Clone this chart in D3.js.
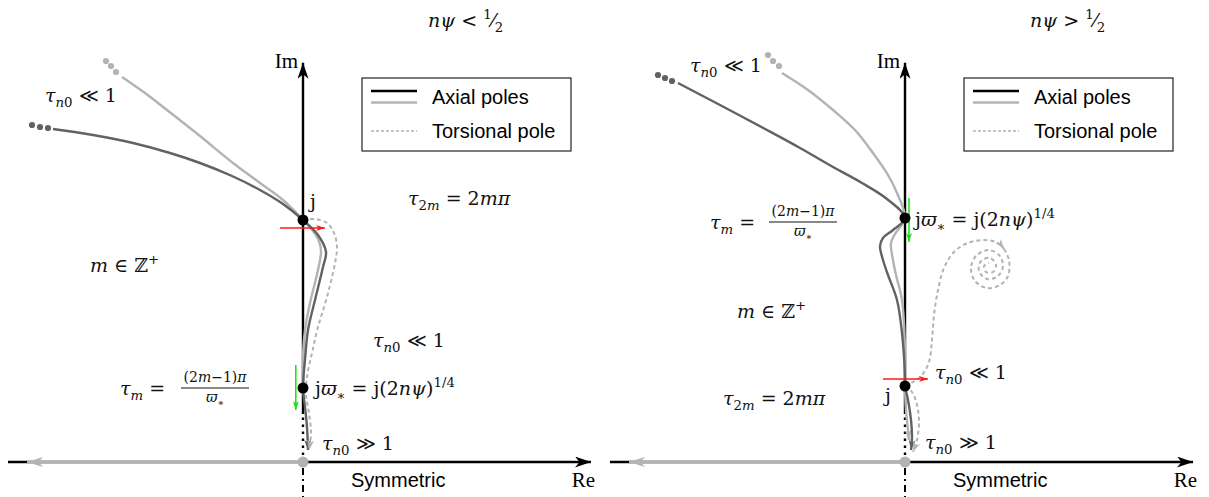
<!DOCTYPE html>
<html><head><meta charset="utf-8">
<script src="https://cdn.jsdelivr.net/npm/d3@7"></script>
<style>
html,body{margin:0;padding:0;background:#fff;}
svg{display:block;}
text{white-space:pre;}
</style></head><body>
<svg id="fig" width="1209" height="497"></svg>
<script>
// ---- Pole trajectories in the complex plane, [Re, Im] ----
// Regime n*psi < 1/2
const leftAxialA = [[-6.25,8.325],[-5.25,8.175],[-4.25,7.975],[-3.325,7.725],[-2.575,7.475],[-1.775,7.15],[-1.075,6.8],[-0.5,6.45],[0,6.05],[0.375,5.675],[0.575,5.25],[0.5,4.875],[0.3,4.05],[0.125,3.3],[0.05,2.55],[0,1.85],[0.05,1.375],[0.1,0.875],[0.125,0.3]];
const leftAxialB = [[-4.525,9.625],[-3.95,9.225],[-3.4,8.8],[-2.575,8.15],[-1.75,7.475],[-1.075,6.975],[-0.5,6.55],[0,6.05],[0.25,5.775],[0.4,5.525],[0.45,5.25],[0.375,4.8],[0.175,3.975],[0.05,3.3],[0,2.675],[0,1.85]];
const leftTorsional = [[0,6.05],[0.3,6.075],[0.6,5.975],[0.775,5.725],[0.85,5.375],[0.8,4.975],[0.6,4.125],[0.375,3.375],[0.225,2.725],[0.1,2.125],[0.075,1.675],[0.15,1.225],[0.2,0.725],[0.15,0.3]];
const leftTailA = [[-6.775,8.425],[-6.575,8.375],[-6.375,8.35]];
const leftTailB = [[-4.925,10.025],[-4.8,9.9],[-4.675,9.75]];
const leftPoles = [[0,6.05],[0,1.85]];
const leftRed = [[-0.575,5.85],[0.55,5.85]];
const leftGreen = [[-0.18,2.425],[-0.18,1.3]];

// Regime n*psi > 1/2
const rightAxialA = [[-5.675,9.475],[-4.625,8.925],[-3.45,8.3],[-2.625,7.85],[-1.8,7.375],[-1.075,6.975],[-0.45,6.575],[0,6.1],[-0.3,5.8],[-0.55,5.6],[-0.625,5.4],[-0.55,5.05],[-0.425,4.675],[-0.2,4.05],[-0.075,3.225],[0,2.125],[0,1.9],[0.075,1.55],[0.15,1.05],[0.175,0.625],[0.15,0.3]];
const rightAxialB = [[-3.075,9.725],[-2.425,9.3],[-1.8,8.8],[-1.25,8.3],[-0.8,7.725],[-0.425,7.175],[-0.2,6.725],[0,6.1],[-0.25,5.7],[-0.35,5.475],[-0.3,5.05],[-0.225,4.675],[-0.075,4.05],[0,2.8],[0,1.9],[0.025,1.3],[0.075,0.8],[0.1,0.55]];
const rightTorsionalUp = [[0,1.9],[0.2,2.0],[0.425,2.175],[0.6,2.5],[0.675,3.05],[0.725,3.675],[0.825,4.3],[0.975,4.85],[1.225,5.25],[1.575,5.475],[2.0,5.55],[2.325,5.475],[2.475,5.325]];
const rightTorsionalSpiral = [[2.475,5.325],[2.6,5.05],[2.575,4.65],[2.375,4.425],[2.05,4.35],[1.75,4.525],[1.65,4.85],[1.775,5.15],[2.075,5.3],[2.35,5.175],[2.45,4.9],[2.325,4.65],[2.05,4.575],[1.85,4.775],[1.9,5.025],[2.125,5.1],[2.275,4.925],[2.2,4.75],[2.025,4.75],[1.975,4.9],[2.1,4.975]];
const rightTorsionalDown = [[0,1.9],[0.175,1.75],[0.3,1.425],[0.35,1.0],[0.3,0.55],[0.2,0.25]];
const rightTailA = [[-6.175,9.675],[-6,9.6],[-5.825,9.525]];
const rightTailB = [[-3.425,10.175],[-3.3,10.025],[-3.15,9.9]];
const rightPoles = [[0,6.1],[0,1.9]];
const rightRed = [[-0.55,2.075],[0.575,2.075]];
const rightGreen = [[0.1,6.6],[0.1,5.5]];

// Axis extents (data units)
const reExtent = [-7.375, 7.2];
const reNegArrow = -6.9;
const imTop = 9.98;
const imSolidFrom = 1.2;
const imBelow = -0.9;

const legendLabels = ["Axial poles", "Torsional pole"];

const SERIF = "'Liberation Serif','DejaVu Serif',serif";
const MATH = "'DejaVu Serif','Liberation Serif',serif";
const SANS = "'Liberation Sans',Arial,sans-serif";
const DARK = "#626262", LIGHT = "#b3b3b3";

const svg = d3.select("#fig");
const defs = svg.append("defs");

function arrowMarker(id, color, len, wid) {
  defs.append("marker").attr("id", id)
    .attr("viewBox", `${-len} ${-wid/2} ${len} ${wid}`)
    .attr("markerUnits", "userSpaceOnUse")
    .attr("markerWidth", len).attr("markerHeight", wid)
    .attr("refX", 0).attr("refY", 0).attr("orient", "auto")
    .append("path")
    .attr("d", `M0,0 L${-len},${-wid/2} L${-len*0.72},0 L${-len},${wid/2} Z`)
    .attr("fill", color);
}
arrowMarker("axisArrow", "#000", 16, 11);
arrowMarker("grayAxisArrow", LIGHT, 16, 10);
arrowMarker("darkArrow", DARK, 10, 7);
arrowMarker("lightArrow", LIGHT, 10, 7);
arrowMarker("redArrow", "#ff1a1a", 9, 6);
arrowMarker("greenArrow", "#14e014", 9, 6);

const x = d3.scaleLinear().domain([-7.5, 7.5]).range([3, 603]);
const y = d3.scaleLinear().domain([0, 10]).range([462, 62]);
const curve = d3.line().x(d => x(d[0])).y(d => y(d[1])).curve(d3.curveCatmullRom.alpha(0.5));
const straight = d3.line().x(d => x(d[0])).y(d => y(d[1]));

const panels = [
  { dx: 0, axial: [leftAxialA, leftAxialB], torsional: [leftTorsional], torsionalPlain: [],
    tails: [leftTailA, leftTailB], poles: leftPoles, red: leftRed, green: leftGreen },
  { dx: 602, axial: [rightAxialA, rightAxialB], torsional: [rightTorsionalUp, rightTorsionalDown], torsionalPlain: [rightTorsionalSpiral],
    tails: [rightTailA, rightTailB], poles: rightPoles, red: rightRed, green: rightGreen }
];

panels.forEach(p => {
  const g = svg.append("g").attr("transform", `translate(${p.dx},0)`);

  // Real axis
  g.append("line").attr("x1", x(reExtent[0])).attr("x2", x(reExtent[1]))
    .attr("y1", y(0)).attr("y2", y(0))
    .attr("stroke", "#000").attr("stroke-width", 2.4).attr("marker-end", "url(#axisArrow)");
  g.append("line").attr("x1", x(0)).attr("x2", x(reNegArrow))
    .attr("y1", y(0)).attr("y2", y(0))
    .attr("stroke", LIGHT).attr("stroke-width", 3).attr("marker-end", "url(#grayAxisArrow)");

  // Imaginary axis: solid, dotted near the origin, dash-dot below it
  g.append("line").attr("x1", x(0)).attr("x2", x(0)).attr("y1", y(imSolidFrom)).attr("y2", y(imTop))
    .attr("stroke", "#000").attr("stroke-width", 2.4).attr("marker-end", "url(#axisArrow)");
  g.append("line").attr("x1", x(0)).attr("x2", x(0)).attr("y1", y(0)).attr("y2", y(imSolidFrom))
    .attr("stroke", "#000").attr("stroke-width", 2.4).attr("stroke-dasharray", "2.4,4.6");
  g.append("line").attr("x1", x(0)).attr("x2", x(0)).attr("y1", y(0) + 6).attr("y2", y(imBelow))
    .attr("stroke", "#000").attr("stroke-width", 2).attr("stroke-dasharray", "7,4,2,4");

  // Axial pole loci
  g.append("path").attr("d", curve(p.axial[1])).attr("fill", "none")
    .attr("stroke", LIGHT).attr("stroke-width", 2.4)
    .attr("marker-end", p.axial[1][p.axial[1].length-1][1] < 1 ? "url(#lightArrow)" : null);
  g.append("path").attr("d", curve(p.axial[0])).attr("fill", "none")
    .attr("stroke", DARK).attr("stroke-width", 2.4).attr("marker-end", "url(#darkArrow)");

  // Torsional pole loci
  p.torsional.forEach(t => g.append("path").attr("d", curve(t)).attr("fill", "none")
    .attr("stroke", LIGHT).attr("stroke-width", 2).attr("stroke-dasharray", "4,3")
    .attr("marker-end", "url(#lightArrow)"));
  p.torsionalPlain.forEach(t => g.append("path").attr("d", curve(t)).attr("fill", "none")
    .attr("stroke", LIGHT).attr("stroke-width", 2).attr("stroke-dasharray", "4,3"));

  // Continuation dots
  p.tails.forEach((t, i) => g.selectAll(null).data(t).enter().append("circle")
    .attr("cx", d => x(d[0])).attr("cy", d => y(d[1])).attr("r", 3.1)
    .attr("fill", i === 0 ? DARK : LIGHT));

  // Direction arrows
  g.append("path").attr("d", straight(p.red)).attr("stroke", "#ff1a1a").attr("stroke-width", 1.5)
    .attr("fill", "none").attr("marker-end", "url(#redArrow)");
  g.append("path").attr("d", straight(p.green)).attr("stroke", "#14e014").attr("stroke-width", 1.5)
    .attr("fill", "none").attr("marker-end", "url(#greenArrow)");

  // Poles and origin
  g.selectAll(null).data(p.poles).enter().append("circle")
    .attr("cx", d => x(d[0])).attr("cy", d => y(d[1])).attr("r", 5.5).attr("fill", "#000");
  g.append("circle").attr("cx", x(0)).attr("cy", y(0)).attr("r", 5.5).attr("fill", LIGHT);

  // Axis labels
  g.append("text").attr("x", x(0) - 5).attr("y", 68).attr("text-anchor", "end")
    .attr("font-family", SERIF).attr("font-size", 21).text("Im");
  g.append("text").attr("x", x(reExtent[1]) + 4).attr("y", 487).attr("text-anchor", "end")
    .attr("font-family", SERIF).attr("font-size", 21).text("Re");
  g.append("text").attr("x", x(0) + 48).attr("y", 487)
    .attr("font-family", SANS).attr("font-size", 20).text("Symmetric");

  // Legend
  const lg = g.append("g");
  lg.append("rect").attr("x", 362).attr("y", 78).attr("width", 209).attr("height", 73)
    .attr("fill", "#fff").attr("stroke", "#222").attr("stroke-width", 1.2);
  lg.append("line").attr("x1", 371).attr("x2", 417).attr("y1", 91).attr("y2", 91).attr("stroke", "#000").attr("stroke-width", 2.4);
  lg.append("line").attr("x1", 371).attr("x2", 417).attr("y1", 102.5).attr("y2", 102.5).attr("stroke", LIGHT).attr("stroke-width", 2.4);
  lg.append("line").attr("x1", 371).attr("x2", 417).attr("y1", 131).attr("y2", 131).attr("stroke", LIGHT).attr("stroke-width", 1.6).attr("stroke-dasharray", "3,2");
  lg.selectAll(null).data(legendLabels).enter().append("text")
    .attr("x", 432).attr("y", (d, i) => 104 + i * 34)
    .attr("font-family", SANS).attr("font-size", 20).text(d => d);
});

// ---- Math annotations ----
const I = t => ({ t, i: true });
const R = t => ({ t });
const Sb = (t, i) => ({ t, sub: true, i });
const Sp = (t, i) => ({ t, sup: true, i });

function math(x0, y0, parts, size = 19, anchor = "start") {
  const txt = svg.append("text").attr("x", x0).attr("y", y0)
    .attr("font-family", MATH).attr("font-size", size).attr("text-anchor", anchor).attr("fill", "#111");
  let cur = 0;
  parts.forEach(p => {
    const off = p.sub ? size * 0.28 : p.sup ? -size * 0.42 : 0;
    const ts = txt.append("tspan").attr("dy", off - cur).text(p.t);
    cur = off;
    if (p.sub || p.sup) ts.attr("font-size", size * 0.7);
    if (p.i) ts.attr("font-style", "italic");
  });
  return txt;
}

function frac(cx, barY, num, den, w, size = 14) {
  math(cx, barY - 6, num, size, "middle");
  math(cx, barY + 14, den, size, "middle");
  svg.append("line").attr("x1", cx - w / 2).attr("x2", cx + w / 2).attr("y1", barY).attr("y2", barY)
    .attr("stroke", "#111").attr("stroke-width", 1);
}

const tauN0 = [I("τ"), Sb("n", true), Sb("0")];
const fracNum = [R("(2"), I("m"), R("−1)"), I("π")];
const fracDen = [I("ϖ"), Sb("∗")];
const jw = [R("j"), I("ϖ"), Sb("∗"), R(" = j(2"), I("n"), I("ψ"), R(")"), Sp("1/4")];

// Titles
math(428, 27, [I("n"), I("ψ"), R(" < "), Sp("1"), R("⁄"), Sb("2")]);
math(1030, 27, [I("n"), I("ψ"), R(" > "), Sp("1"), R("⁄"), Sb("2")]);

// Left panel (n psi < 1/2)
math(45, 102, [...tauN0, R(" ≪ 1")]);
math(310, 208, [R("j")]);
math(408, 205, [I("τ"), Sb("2"), Sb("m", true), R(" = 2"), I("m"), I("π")]);
math(90, 272, [I("m"), R(" ∈ ℤ"), Sp("+")]);
math(373, 347, [...tauN0, R(" ≪ 1")]);
math(120, 395, [I("τ"), Sb("m", true), R(" =")]);
frac(215, 388, fracNum, fracDen, 68);
math(315, 395, jw);
math(322, 450, [...tauN0, R(" ≫ 1")]);

// Right panel (n psi > 1/2)
math(690, 72, [...tauN0, R(" ≪ 1")]);
math(710, 229, [I("τ"), Sb("m", true), R(" =")]);
frac(803, 222, fracNum, fracDen, 68);
math(915, 226, jw);
math(737, 318, [I("m"), R(" ∈ ℤ"), Sp("+")]);
math(723, 405, [I("τ"), Sb("2"), Sb("m", true), R(" = 2"), I("m"), I("π")]);
math(885, 402, [R("j")]);
math(935, 379, [...tauN0, R(" ≪ 1")]);
math(925, 449, [...tauN0, R(" ≫ 1")]);
</script>
</body></html>
